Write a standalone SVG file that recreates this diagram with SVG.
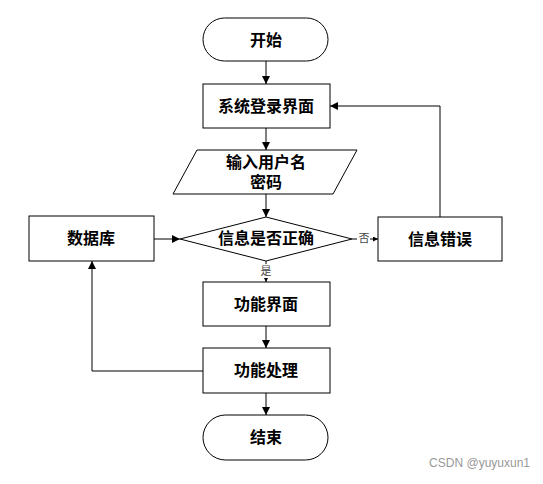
<svg xmlns="http://www.w3.org/2000/svg" width="543" height="484" viewBox="0 0 543 484">
<defs>
<marker id="ah" viewBox="0 0 10 10" refX="10" refY="5" markerWidth="8" markerHeight="8" markerUnits="userSpaceOnUse" orient="auto">
<path d="M0,0 L10,5 L0,10 Z" fill="#000"/>
</marker>
<marker id="ahs" viewBox="0 0 10 10" refX="10" refY="5" markerWidth="5" markerHeight="5" markerUnits="userSpaceOnUse" orient="auto">
<path d="M0,0 L10,5 L0,10 Z" fill="#000"/>
</marker>
</defs>
<style>
.shape{fill:#fff;stroke:#000;stroke-width:1}
.t{font-family:"Liberation Serif","Noto Sans CJK SC",serif;font-size:16px;font-weight:bold;text-anchor:middle;dominant-baseline:central;fill:#000}
.lbl{font-family:"Liberation Serif","Noto Sans CJK SC",serif;font-size:11px;text-anchor:middle;dominant-baseline:central;fill:#444}
.c{fill:none;stroke:#000;stroke-width:1}
</style>
<rect width="543" height="484" fill="#fff"/>
<g id="connectors">
<line class="c" x1="266" y1="61" x2="266" y2="84" marker-end="url(#ah)"/>
<line class="c" x1="266" y1="128" x2="266" y2="150" marker-end="url(#ah)"/>
<line class="c" x1="266" y1="194" x2="266" y2="217" marker-end="url(#ah)"/>
<line class="c" x1="266" y1="261" x2="266" y2="282" marker-end="url(#ahs)"/>
<line class="c" x1="266" y1="326" x2="266" y2="348" marker-end="url(#ah)"/>
<line class="c" x1="266" y1="393" x2="266" y2="415" marker-end="url(#ah)"/>
<line class="c" x1="352" y1="239" x2="378" y2="239" marker-end="url(#ahs)"/>
<polyline class="c" points="440,217 440,106 330,106" marker-end="url(#ah)"/>
<line class="c" x1="154" y1="239" x2="180" y2="239" marker-end="url(#ah)"/>
<polyline class="c" points="203,371 92,371 92,261" marker-end="url(#ah)"/>
<rect x="258" y="264" width="16" height="14" fill="#fff"/>
<text class="lbl" x="266" y="271">是</text>
<rect x="357" y="232" width="13" height="14" fill="#fff"/>
<text class="lbl" x="364" y="238">否</text>
</g>
<g id="start">
<rect class="shape" x="203" y="18" width="125" height="43" rx="21.5" ry="21.5"/>
<text class="t" x="266" y="40">开始</text>
</g>
<g id="login">
<rect class="shape" x="203" y="84" width="127" height="44"/>
<text class="t" x="266" y="106">系统登录界面</text>
</g>
<g id="input">
<polygon class="shape" points="197,150 357,150 333,194 173,194"/>
<text class="t" x="266" y="162">输入用户名</text>
<text class="t" x="266" y="182">密码</text>
</g>
<g id="check">
<polygon class="shape" points="266,217 352,239 266,261 180,239"/>
<text class="t" x="266" y="238">信息是否正确</text>
</g>
<g id="db">
<rect class="shape" x="29" y="216" width="125" height="45"/>
<text class="t" x="91" y="238">数据库</text>
</g>
<g id="error">
<rect class="shape" x="378" y="217" width="124" height="44"/>
<text class="t" x="440" y="239">信息错误</text>
</g>
<g id="func">
<rect class="shape" x="203" y="282" width="127" height="44"/>
<text class="t" x="266" y="304">功能界面</text>
</g>
<g id="process">
<rect class="shape" x="203" y="348" width="127" height="45"/>
<text class="t" x="266" y="370">功能处理</text>
</g>
<g id="end">
<rect class="shape" x="203" y="415" width="125" height="45" rx="22.5" ry="22.5"/>
<text class="t" x="266" y="437">结束</text>
</g>
<text x="530" y="467" font-family="Liberation Sans,Arial,sans-serif" font-size="12" fill="#999" text-anchor="end">CSDN @yuyuxun1</text>
</svg>
